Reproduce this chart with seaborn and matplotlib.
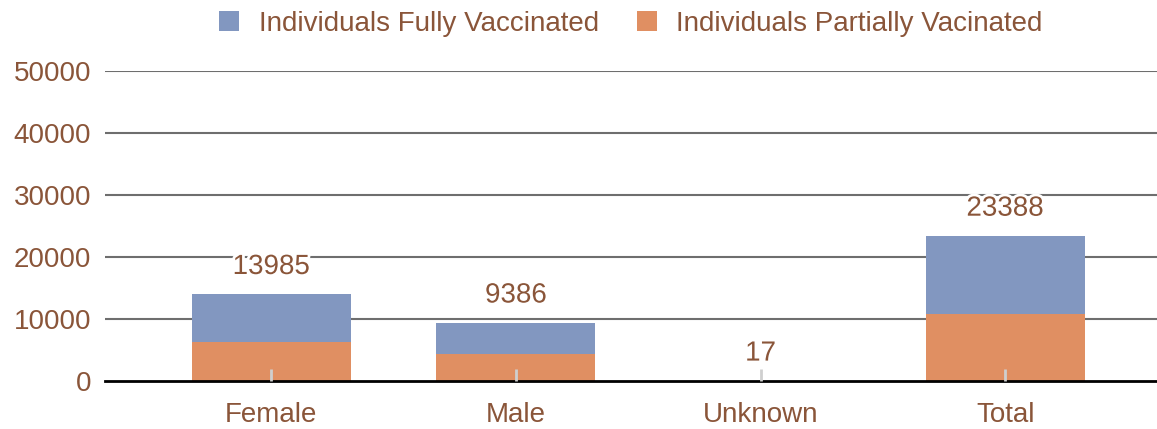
import matplotlib
matplotlib.use("Agg")
import matplotlib.pyplot as plt
import matplotlib.patheffects as pe
import seaborn as sns

# Datos
categories = ["Female", "Male", "Unknown", "Total"]
fully = [7635, 4986, 10, 12628]
partial = [6350, 4400, 7, 10760]
totals = [f + p for f, p in zip(fully, partial)]
y_ticks = [0, 10000, 20000, 30000, 40000, 50000]

BLUE = "#8297c0"
ORANGE = "#e08f62"
BROWN = "#8a5539"
FS = 20

sns.set_theme(style="white")
plt.rcParams["font.family"] = ["Liberation Sans", "DejaVu Sans"]

fig = plt.figure(figsize=(11.57, 4.29), dpi=100)
ax = fig.add_axes([0.0908, 0.112, 0.909, 0.7225])

# barra completa (total) en azul, parcial en naranja encima
sns.barplot(x=categories, y=totals, color=BLUE, saturation=1, width=0.65,
            linewidth=0, label="Individuals Fully Vaccinated", ax=ax, zorder=2)
sns.barplot(x=categories, y=partial, color=ORANGE, saturation=1, width=0.65,
            linewidth=0, label="Individuals Partially Vacinated", ax=ax, zorder=2)

ax.set_ylim(0, 50000)
ax.set_xlim(-0.68, 3.62)
ax.set_yticks(y_ticks)
ax.set_yticklabels([str(t) for t in y_ticks])

# lineas de cuadricula por debajo de las barras
ax.grid(False)
for t in y_ticks[1:]:
    ax.axhline(t, color="#6e6e6e", linewidth=1.5, zorder=1)
ax.set_axisbelow(False)

for s in ["top", "right", "left"]:
    ax.spines[s].set_visible(False)
ax.spines["bottom"].set_color("black")
ax.spines["bottom"].set_linewidth(2)

ax.tick_params(axis="y", left=False, length=0, pad=10, labelsize=FS, labelcolor=BROWN)
ax.tick_params(axis="x", bottom=True, direction="in", length=9, width=2,
               color="#cfcfcf", pad=15, labelsize=FS, labelcolor=BROWN)
ax.set_xlabel("")
ax.set_ylabel("")

# etiquetas de totales
for i, v in enumerate(totals):
    ax.text(i, v + 2300, str(v), ha="center", va="bottom", fontsize=FS,
            color=BROWN, zorder=5,
            path_effects=[pe.withStroke(linewidth=4, foreground="white")])

ax.legend(loc="center", bbox_to_anchor=(0.5, 1.152), ncol=2, frameon=False,
          fontsize=FS, labelcolor=BROWN, handlelength=0.72, handleheight=0.72,
          handletextpad=0.7, columnspacing=1.37, borderaxespad=0)

plt.savefig("out.png", dpi=100)
